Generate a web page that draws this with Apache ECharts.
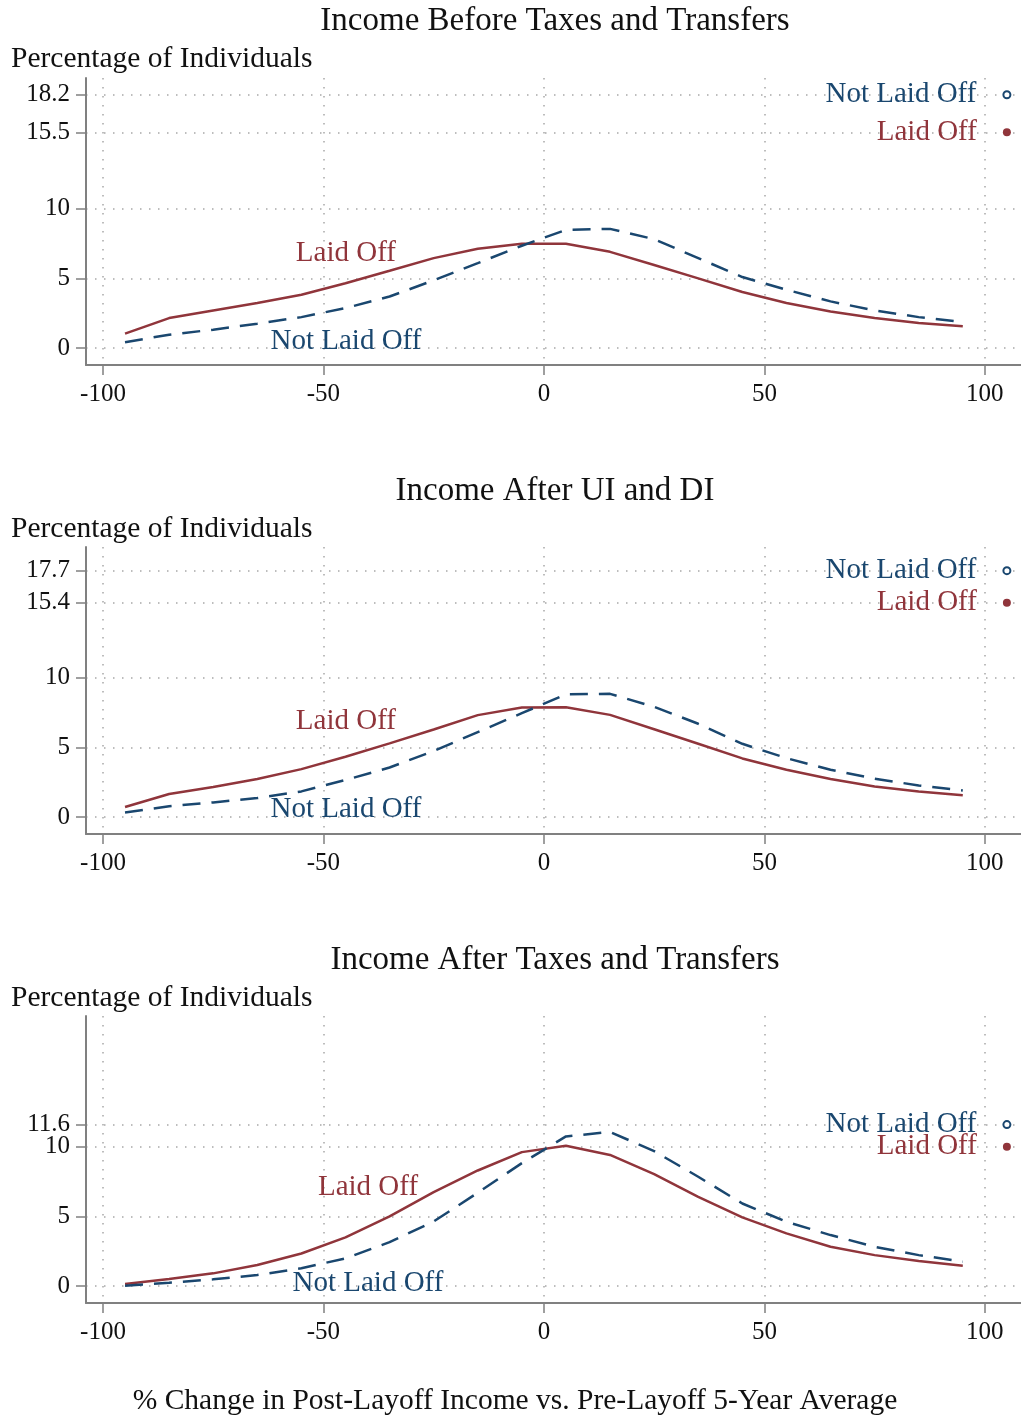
<!DOCTYPE html>
<html>
<head>
<meta charset="utf-8">
<script src="https://cdn.jsdelivr.net/npm/echarts@6/dist/echarts.min.js"></script>
<style>
html,body{margin:0;padding:0;background:#fff;}
#chart{width:1021px;height:1418px;}
</style>
</head>
<body>
<div id="chart"></div>
<script>
// ---- data ----
const xBins = [-95,-85,-75,-65,-55,-45,-35,-25,-15,-5,5,15,25,35,45,55,65,75,85,95];
const xTicks = [-100,-50,0,50,100];

const panelTitles = ['Income Before Taxes and Transfers','Income After UI and DI','Income After Taxes and Transfers'];
const yAxisName = 'Percentage of Individuals';
const xAxisTitle = '% Change in Post-Layoff Income vs. Pre-Layoff 5-Year Average';
const seriesNames = ['Laid Off','Not Laid Off'];

const p1Laid = [1.03,2.15,2.7,3.23,3.83,4.65,5.55,6.46,7.13,7.49,7.49,6.91,5.96,5.0,4.02,3.23,2.63,2.15,1.79,1.56];
const p1Not  = [0.41,0.96,1.32,1.75,2.22,2.87,3.7,4.86,6.1,7.35,8.49,8.56,7.82,6.46,5.1,4.19,3.35,2.7,2.22,1.87];

const p2Laid = [0.72,1.65,2.15,2.73,3.44,4.33,5.29,6.29,7.32,7.87,7.89,7.34,6.31,5.26,4.21,3.4,2.73,2.2,1.84,1.56];
const p2Not  = [0.33,0.77,1.05,1.36,1.84,2.66,3.56,4.74,6.1,7.46,8.82,8.85,7.92,6.7,5.26,4.23,3.4,2.75,2.27,1.91];

const p3Laid = [0.14,0.5,0.91,1.51,2.34,3.49,5.0,6.75,8.3,9.62,10.08,9.42,8.04,6.41,4.93,3.78,2.82,2.22,1.79,1.46];
const p3Not  = [0.02,0.24,0.48,0.79,1.27,1.99,3.15,4.64,6.7,8.83,10.75,11.07,9.69,7.85,5.93,4.62,3.66,2.82,2.22,1.75];

// right-side marker values [Not Laid Off, Laid Off]
const p1Marks = [18.2, 15.5];
const p2Marks = [17.7, 15.4];
const p3Marks = [11.6, 10];
const markX = 105;

const p1YTicks = [0,5,10,15.5,18.2];
const p2YTicks = [0,5,10,15.4,17.7];
const p3YTicks = [0,5,10,11.6];
const p3ExtraLabel = [11.6];   // drawn on an overlay axis so it is not hidden by overlap
const p3MainLabels = [0,5,10];

// in-plot label anchors [x, y] : Laid Off, Not Laid Off
const p1LabelPos = [[-44.9,6.83],[-44.9,0.5]];
const p2LabelPos = [[-44.9,6.85],[-44.9,0.52]];
const p3LabelPos = [[-39.9,7.1],[-39.9,0.2]];

// ---- styling ----
const RED = '#90353b', BLUE = '#1a476f';
const FONT = '"Liberation Serif", "Times New Roman", serif';
const AXISC = '#808080';
const YMIN = -1.22, YMAX = 19.4;

const panels = [
  {laid:p1Laid, not:p1Not, marks:p1Marks, yTicks:p1YTicks, yLabels:p1YTicks, lab:p1LabelPos, top:78},
  {laid:p2Laid, not:p2Not, marks:p2Marks, yTicks:p2YTicks, yLabels:p2YTicks, lab:p2LabelPos, top:547},
  {laid:p3Laid, not:p3Not, marks:p3Marks, yTicks:p3YTicks, yLabels:p3MainLabels, lab:p3LabelPos, top:1016}
];

const grid = [], xAxis = [], yAxis = [], series = [], graphic = [];
const titleY = [21, 491, 960];
const nameY = [59, 529, 998];
const labelStyle = {color:'#111', fontFamily:FONT, fontSize:25, hideOverlap:false};

panels.forEach((p, i) => {
  grid.push({left:86, right:0, top:p.top, height:287, containLabel:false});
  xAxis.push({
    type:'value', gridIndex:i, min:-103.85, max:108.2,
    axisLine:{show:true, onZero:false, lineStyle:{color:AXISC, width:2}},
    axisTick:{show:true, customValues:xTicks, length:10, lineStyle:{color:AXISC, width:1.5}},
    axisLabel:Object.assign({show:true, customValues:xTicks, margin:17}, labelStyle),
    splitLine:{show:true, lineStyle:{color:'#a8a8a8', width:1.5, type:[1.5,7.5]}}
  });
  yAxis.push({
    type:'value', gridIndex:i, min:YMIN, max:YMAX,
    axisLine:{show:true, onZero:false, lineStyle:{color:AXISC, width:2}},
    axisTick:{show:true, customValues:p.yTicks, length:10, lineStyle:{color:AXISC, width:1.5}},
    axisLabel:Object.assign({show:true, customValues:p.yLabels, margin:16}, labelStyle),
    splitLine:{show:true, lineStyle:{color:'#a8a8a8', width:1.5, type:[1.5,7.5]}}
  });
  series.push({
    type:'line', name:seriesNames[0], xAxisIndex:i, yAxisIndex:i,
    data:xBins.map((x,k)=>[x,p.laid[k]]), showSymbol:false, silent:true,
    lineStyle:{color:RED, width:2.5}
  });
  series.push({
    type:'line', name:seriesNames[1], xAxisIndex:i, yAxisIndex:i,
    data:xBins.map((x,k)=>[x,p.not[k]]), showSymbol:false, silent:true,
    lineStyle:{color:BLUE, width:2.5, type:[18,11]}
  });
  series.push({
    type:'scatter', xAxisIndex:i, yAxisIndex:i, silent:true,
    data:[[markX, p.marks[0]]], symbol:'circle', symbolSize:7,
    itemStyle:{color:'#fff', borderColor:BLUE, borderWidth:2, opacity:1},
    label:{show:true, position:'left', distance:26, formatter:seriesNames[1], color:BLUE, fontFamily:FONT, fontSize:29}
  });
  series.push({
    type:'scatter', xAxisIndex:i, yAxisIndex:i, silent:true,
    data:[[markX, p.marks[1]]], symbol:'circle', symbolSize:8,
    itemStyle:{color:RED, opacity:1},
    label:{show:true, position:'left', distance:26, formatter:seriesNames[0], color:RED, fontFamily:FONT, fontSize:29}
  });
  series.push({
    type:'scatter', xAxisIndex:i, yAxisIndex:i, silent:true, symbolSize:0,
    itemStyle:{opacity:1},
    data:[{value:p.lab[0], label:{formatter:seriesNames[0], color:RED}},
          {value:p.lab[1], label:{formatter:seriesNames[1], color:BLUE}}],
    label:{show:true, position:'inside', fontFamily:FONT, fontSize:29}
  });
  graphic.push({type:'text', x:555, y:titleY[i], style:{text:panelTitles[i], font:'33px '+FONT, fill:'#111', textAlign:'center', textVerticalAlign:'middle'}});
  graphic.push({type:'text', x:11, y:nameY[i], style:{text:yAxisName, font:'29.5px '+FONT, fill:'#111', textAlign:'left', textVerticalAlign:'middle'}});
});
// overlay axis for panel 3 extra label
yAxis.push({
  type:'value', gridIndex:2, min:YMIN, max:YMAX, position:'left', offset:0,
  axisLine:{show:false}, axisTick:{show:false}, splitLine:{show:false},
  axisLabel:Object.assign({show:true, customValues:p3ExtraLabel, margin:16}, labelStyle)
});
graphic.push({type:'text', x:515, y:1401, style:{text:xAxisTitle, font:'29.5px '+FONT, fill:'#111', textAlign:'center', textVerticalAlign:'middle'}});

const chart = echarts.init(document.getElementById('chart'), null, {renderer:'canvas'});
chart.setOption({animation:false, backgroundColor:'#fff', grid, xAxis, yAxis, series, graphic});
</script>
</body>
</html>
